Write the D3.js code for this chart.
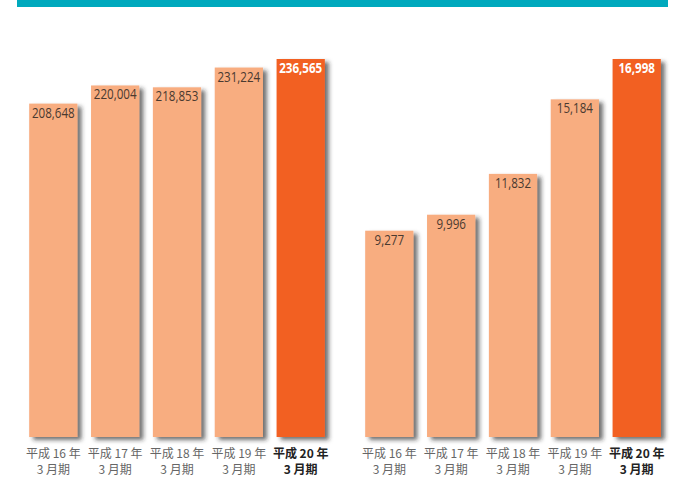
<!DOCTYPE html>
<html>
<head>
<meta charset="utf-8">
<script src="https://d3js.org/d3.v7.min.js"></script>
<style>
  body { margin: 0; background: #fff; }
</style>
</head>
<body>
<div id="chart"></div>
<script>
// Data
const categories = ["平成 16 年|3 月期", "平成 17 年|3 月期", "平成 18 年|3 月期", "平成 19 年|3 月期", "平成 20 年|3 月期"];
const salesValues = [208648, 220004, 218853, 231224, 236565];
const profitValues = [9277, 9996, 11832, 15184, 16998];

const width = 680, height = 478;
const baseY = 437, topY = 59;

const svg = d3.select("#chart").append("svg")
  .attr("width", width)
  .attr("height", height);

// Drop shadow for bars
const defs = svg.append("defs");
const f = defs.append("filter").attr("id", "shadow")
  .attr("x", "-20%").attr("y", "-10%").attr("width", "150%").attr("height", "130%");
f.append("feDropShadow")
  .attr("dx", 4).attr("dy", 3).attr("stdDeviation", 2.2)
  .attr("flood-color", "#222").attr("flood-opacity", 0.65);

// Top teal band
svg.append("rect")
  .attr("x", 17).attr("y", 0).attr("width", 651).attr("height", 7)
  .attr("fill", "#00a9bd");

function drawPanel(values, x0, x1) {
  const x = d3.scaleBand().domain(categories).range([x0, x1]).paddingInner(0.22).paddingOuter(0.1);
  const y = d3.scaleLinear().domain([0, d3.max(values)]).range([baseY, topY]);
  const last = categories.length - 1;

  const g = svg.append("g");
  g.selectAll("rect").data(values).enter().append("rect")
    .attr("x", (d, i) => x(categories[i]))
    .attr("y", d => y(d))
    .attr("width", x.bandwidth())
    .attr("height", d => baseY - y(d))
    .attr("fill", (d, i) => i === last ? "#f26122" : "#f8ad80")
    .attr("filter", "url(#shadow)");

  // value labels, squeezed horizontally to look condensed
  g.selectAll("g.val").data(values).enter().append("g")
    .attr("class", "val")
    .attr("transform", (d, i) => `translate(${x(categories[i]) + x.bandwidth() / 2},${y(d) + 14}) scale(0.8,1)`)
    .append("text")
    .attr("text-anchor", "middle")
    .attr("font-family", "'Open Sans', sans-serif")
    .attr("font-size", 14.5)
    .attr("font-weight", (d, i) => i === last ? "bold" : "normal")
    .attr("fill", (d, i) => i === last ? "#fff" : "#4a3a30")
    .text(d => d3.format(",")(d));

  const labels = g.selectAll("text.cat").data(categories).enter().append("text")
    .attr("class", "cat")
    .attr("x", d => x(d) + x.bandwidth() / 2)
    .attr("y", 458)
    .attr("text-anchor", "middle")
    .attr("font-family", "'Noto Sans CJK JP', sans-serif")
    .attr("font-size", 12)
    .attr("font-weight", (d, i) => i === last ? "bold" : "normal")
    .attr("fill", (d, i) => i === last ? "#222" : "#666");
  labels.each(function(d) {
    const parts = d.split("|");
    const t = d3.select(this);
    parts.forEach((p, j) => {
      t.append("tspan")
        .attr("x", t.attr("x"))
        .attr("dy", j === 0 ? 0 : 16)
        .text(p);
    });
  });
}

drawPanel(salesValues, 23, 331);
drawPanel(profitValues, 359, 667);
</script>
</body>
</html>
